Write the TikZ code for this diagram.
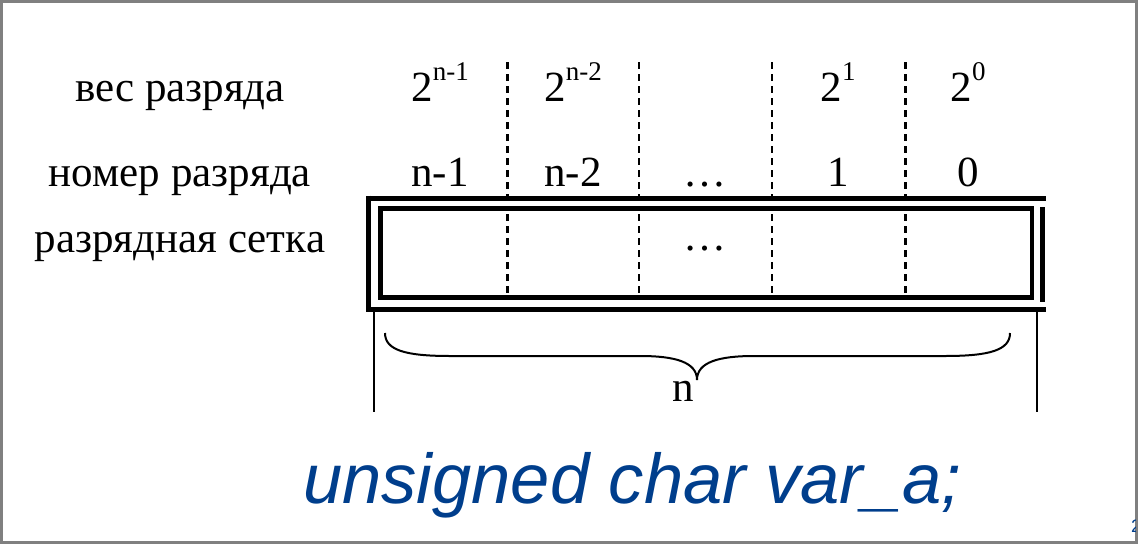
\documentclass[tikz,border=0pt]{standalone}
\usepackage{fontspec}
\setmainfont{Liberation Serif}
\newfontfamily\codefont{Liberation Sans}
\definecolor{codeblue}{RGB}{0,62,140}
\definecolor{framegray}{RGB}{128,128,128}
\newcommand{\pw}[1]{2\raisebox{21pt}{\fontsize{27}{30}\selectfont #1}}
\tikzset{
  lbl/.style={font=\fontsize{43}{50}\selectfont, anchor=base, inner sep=0pt},
  heavy/.style={line width=5pt},
  thin/.style={line width=1.5pt},
  divthick/.style={dash pattern=on 7pt off 5pt, line width=3pt},
  divthin/.style={dash pattern=on 7pt off 5pt, line width=2pt},
  codetext/.style={font=\codefont\itshape\fontsize{70.5}{76}\selectfont, text=codeblue, anchor=base west, inner sep=0pt}
}
\begin{document}
\begin{tikzpicture}[x=1pt,y=-1pt]
\useasboundingbox (0,0) rectangle (1138,544);
\draw[framegray, line width=3pt] (1.5,1.5) rectangle (1136.5,542.5);

% row labels
\node[lbl] (wlbl) at (180,101) {вес разряда};
\node[lbl] (nlbl) at (180,186) {номер разряда};
\node[lbl] (glbl) at (180,252) {разрядная сетка};

% weights
\node[lbl] (w1) at (440,101) {\pw{n-1}};
\node[lbl] (w2) at (573,101) {\pw{n-2}};
\node[lbl] (w4) at (838,101) {\pw{1}};
\node[lbl] (w5) at (968,101) {\pw{0}};

% numbers
\node[lbl] (n1) at (440,186) {n-1};
\node[lbl] (n2) at (573,186) {n-2};
\node[lbl] (n3) at (705,186) {\dots};
\node[lbl] (n4) at (838,186) {1};
\node[lbl] (n5) at (968,186) {0};
\node[lbl] (g3) at (705,250) {\dots};

% dividers
\draw[divthick] (507,62) -- (507,197);
\draw[divthick] (507,214) -- (507,293);
\draw[divthin] (639,62) -- (639,197);
\draw[divthin] (639,214) -- (639,293);
\draw[divthin] (772,62) -- (772,197);
\draw[divthin] (772,214) -- (772,293);
\draw[divthick] (905,62) -- (905,197);
\draw[divthick] (905,214) -- (905,293);

% outer frame
\draw[heavy] (366,198) -- (1046,198);
\draw[heavy] (366,309) -- (1046,309);
\draw[heavy] (368.5,195.5) -- (368.5,311.5);
\draw[heavy] (1042.5,207) -- (1042.5,302);
% inner frame
\draw[line width=4.5pt] (380.5,208.5) rectangle (1032,297.5);

% extension lines
\draw[thin] (374,311) -- (374,412);
\draw[thin] (1037,311) -- (1037,412);

% brace
\draw[line width=2pt] (385,333) .. controls (385,350) and (405,356) .. (450,356)
  -- (640,356) .. controls (675,356) and (697,362) .. (697,380)
  .. controls (697,362) and (719,356) .. (754,356)
  -- (945,356) .. controls (990,356) and (1010,350) .. (1010,333);
\node[lbl] (nn) at (683,401) {n};

% code text
\node[codetext] (code) at (303,503) {unsigned char var\_a;};

% clipped page number fragment
\begin{scope}
\clip (1128,512) rectangle (1135,540);
\node[font=\codefont\fontsize{18}{20}\selectfont, text=codeblue, anchor=base west, inner sep=0pt] (pg) at (1131,532) {2};
\end{scope}
\end{tikzpicture}
\end{document}
